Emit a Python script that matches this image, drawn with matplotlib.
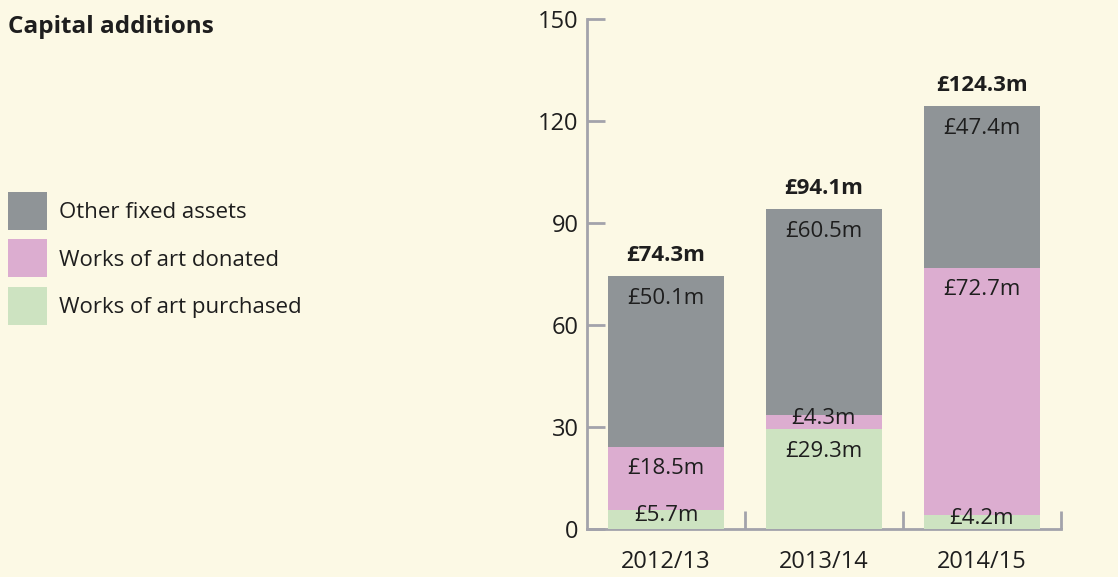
import matplotlib
matplotlib.use("Agg")
import matplotlib.pyplot as plt
from matplotlib.patches import Rectangle
from matplotlib.ticker import FixedLocator

years = ["2012/13", "2013/14", "2014/15"]
purchased = [5.7, 29.3, 4.2]
donated = [18.5, 4.3, 72.7]
other = [50.1, 60.5, 47.4]
totals = [74.3, 94.1, 124.3]
series_names = ["Other fixed assets", "Works of art donated", "Works of art purchased"]
yticks = [0, 30, 60, 90, 120, 150]

BG = "#fcf9e5"
C_OTHER = "#8f9497"
C_DON = "#dcadd0"
C_PUR = "#cde3c1"
AXC = "#a3a3ab"
TXT = "#1e1e1e"

plt.rcParams['font.family'] = ['Open Sans', 'DejaVu Sans']

fig = plt.figure(figsize=(11.18, 5.77), dpi=100, facecolor=BG)
ax = fig.add_axes([587/1118, 1-529/577, (1061-587)/1118, (529-19)/577])
ax.set_facecolor(BG)

x = [i + 0.5 for i in range(len(years))]
w = 0.73
bottom2 = purchased
bottom3 = [a + b for a, b in zip(purchased, donated)]
ax.bar(x, purchased, width=w, color=C_PUR, zorder=3)
ax.bar(x, donated, width=w, bottom=bottom2, color=C_DON, zorder=3)
ax.bar(x, other, width=w, bottom=bottom3, color=C_OTHER, zorder=3)

ax.set_xlim(0, 3)
ax.set_ylim(0, 150)
for s in ["top", "right"]:
    ax.spines[s].set_visible(False)
for s in ["left", "bottom"]:
    ax.spines[s].set_color(AXC)
    ax.spines[s].set_linewidth(2)
    ax.spines[s].set_zorder(2)

ax.set_yticks(yticks)
ax.tick_params(axis="y", direction="in", length=13, width=2, color=AXC,
               labelsize=17, labelcolor=TXT, pad=6)

ax.set_xticks(x)
ax.set_xticklabels(years)
ax.tick_params(axis="x", which="major", length=0, labelsize=17, labelcolor=TXT, pad=15)
ax.xaxis.set_minor_locator(FixedLocator([1, 2, 3]))
ax.tick_params(axis="x", which="minor", direction="in", length=13, width=2, color=AXC)

def seg_label(xc, base, h):
    top = base + h
    if h * 3.4 > 50:
        ax.annotate(f"£{h:.1f}m", (xc, top), xytext=(0, -16), textcoords="offset points",
                    ha="center", va="center", fontsize=16, color=TXT, zorder=5)
    else:
        ax.annotate(f"£{h:.1f}m", ((xc), base + h / 2), xytext=(0, 2.5), textcoords="offset points",
                    ha="center", va="center", fontsize=16, color=TXT, zorder=5)

for i in range(len(years)):
    seg_label(x[i], 0, purchased[i])
    seg_label(x[i], bottom2[i], donated[i])
    seg_label(x[i], bottom3[i], other[i])
    ax.annotate(f"£{totals[i]:.1f}m", (x[i], totals[i]), xytext=(0, 15), textcoords="offset points",
                ha="center", va="center", fontsize=16, fontweight="bold", color=TXT, zorder=5)

fig.text(8/1118, 1-27/577, "Capital additions", fontsize=17.5, fontweight="bold",
         color=TXT, ha="left", va="center")

leg_colors = [C_OTHER, C_DON, C_PUR]
leg_tops = [192, 239, 287]
for name, c, t in zip(series_names, leg_colors, leg_tops):
    fig.patches.append(Rectangle((8/1118, 1-(t+38)/577), 39/1118, 38/577,
                                 transform=fig.transFigure, facecolor=c, edgecolor="none"))
    fig.text(59/1118, 1-(t+21)/577, name, fontsize=16, color=TXT, ha="left", va="center")

fig.savefig("out.png", dpi=100, facecolor=BG)
